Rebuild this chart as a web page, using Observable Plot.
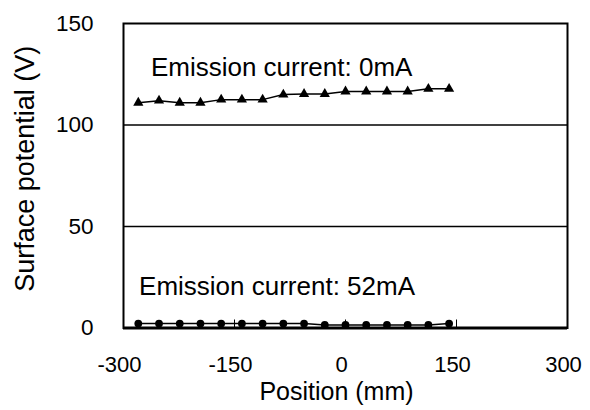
<!DOCTYPE html>
<html><head><meta charset="utf-8">
<script src="https://cdn.jsdelivr.net/npm/d3@7"></script>
<script src="https://cdn.jsdelivr.net/npm/@observablehq/plot@0.6"></script>
<style>body{margin:0;background:#fff}</style>
</head><body><div id="chart"></div>
<script>
const positions = [-280,-252,-224,-196,-168,-140,-112,-84,-56,-28,0,28,56,84,112,140];
const potential0mA = [111,112,111,111,112.5,112.5,112.5,115,115.3,115.3,116.5,116.5,116.5,116.5,117.8,117.8];
const potential52mA = [2.2,2.2,2.2,2.2,2.2,2.2,2.2,2.2,2.2,1.5,1.5,1.5,1.5,1.5,1.5,2.2];
const xTicks = [-300,-150,0,150,300];
const yTicks = [0,50,100,150];
const gridValues = [50,100];
const annotationText = ["Emission current: 0mA","Emission current: 52mA"];
const annotationX = [-263,-279];
const annotationY = [124,16.4];
const xLabel = "Position (mm)";
const yLabel = "Surface potential (V)";

const s0 = positions.map((x,i)=>({x, y: potential0mA[i]}));
const s52 = positions.map((x,i)=>({x, y: potential52mA[i]}));
const notes = annotationText.map((t,i)=>({t, x: annotationX[i], y: annotationY[i]}));
const fmt = d => String(d);

const chart = Plot.plot({
  width: 590, height: 410,
  marginLeft: 123, marginRight: 23, marginTop: 23, marginBottom: 82.5,
  style: {fontFamily: "'Liberation Sans', Arial, sans-serif", background: "white", color: "black"},
  x: {domain: [-300, 300]},
  y: {domain: [0, 150]},
  marks: [
    Plot.gridY(gridValues, {stroke: "black", strokeOpacity: 1, strokeWidth: 1.3}),
    Plot.frame({stroke: "black", strokeWidth: 2}),
    Plot.ruleY([0], {stroke: "black", strokeWidth: 3}),
    Plot.axisY({ticks: yTicks, tickSize: 0, tickPadding: 30, fontSize: 22.5, label: null, tickFormat: fmt}),
    Plot.axisX({ticks: xTicks, tickSize: -8, tickFormat: () => "", label: null, strokeWidth: 1}),
    Plot.axisX({ticks: xTicks, tickSize: 0, tickPadding: 28.4, fontSize: 22, label: null, dx: -4, tickFormat: fmt}),
    Plot.line(s0, {x: "x", y: "y", stroke: "black", strokeWidth: 1.5}),
    Plot.dot(s0, {x: "x", y: "y", symbol: "triangle", r: 3.8, fill: "black", stroke: null}),
    Plot.line(s52, {x: "x", y: "y", stroke: "black", strokeWidth: 1.5}),
    Plot.dot(s52, {x: "x", y: "y", symbol: "circle", r: 3.9, fill: "black", stroke: null}),
    Plot.text(notes, {x: "x", y: "y", text: "t", textAnchor: "start", lineAnchor: "bottom", fontSize: 26, fill: "black"}),
    Plot.text([yLabel], {frameAnchor: "left", text: d => d, rotate: -90, dx: -90, dy: -7, textAnchor: "middle", lineAnchor: "bottom", fontSize: 27, fill: "black"}),
    Plot.text([xLabel], {frameAnchor: "bottom", text: d => d, dx: -9, dy: 71.5, textAnchor: "middle", lineAnchor: "bottom", fontSize: 25, fill: "black"})
  ]
});
document.getElementById("chart").appendChild(chart);
</script>
</body></html>
